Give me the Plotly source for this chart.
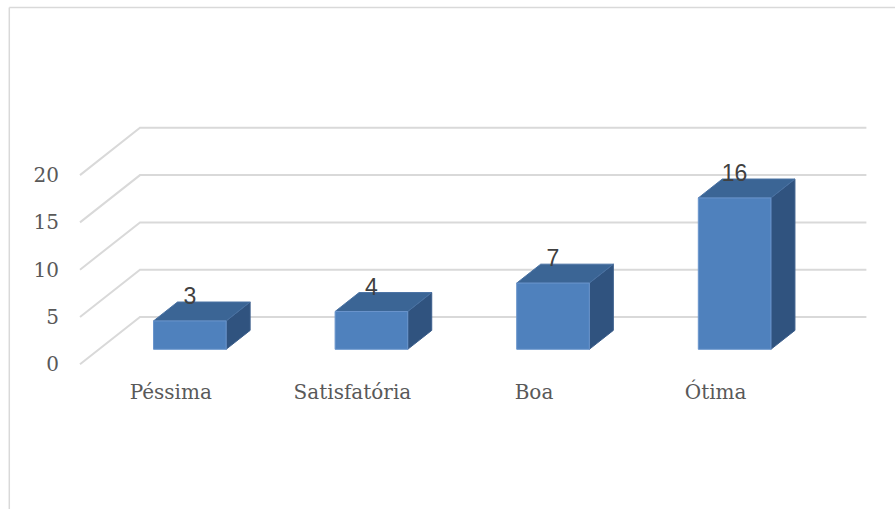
import plotly.graph_objects as go

# ---- data ----
categories = ["Péssima", "Satisfatória", "Boa", "Ótima"]
values = [3, 4, 7, 16]
y_ticks = [0, 5, 10, 15, 20]

# ---- pseudo-3D geometry (in axis units) ----
DX = 0.3304      # horizontal shift for full depth (category units)
DY = 5.0         # vertical shift for full depth (value units)
D0, D1 = 0.317, 0.717   # bar depth span
W = 0.4          # bar width (category units)

FRONT = "#4f81bd"
TOP = "#3b6595"
SIDE = "#30537f"
GRID = "#d9d9d9"

fig = go.Figure()

# gridlines: back wall + diagonal side lines
gx, gy = [], []
n = len(categories)
for v in y_ticks:
    gx += [-0.5, -0.5 + DX, n - 0.5 + DX, None]
    gy += [v, v + DY, v + DY, None]
fig.add_trace(go.Scatter(x=gx, y=gy, mode="lines", line=dict(color=GRID, width=2),
                         hoverinfo="skip", showlegend=False))

for i, v in enumerate(values):
    xl = i - W / 2
    xr = i + W / 2
    # front face
    fx = [xl + D0 * DX, xr + D0 * DX, xr + D0 * DX, xl + D0 * DX, xl + D0 * DX]
    fy = [D0 * DY, D0 * DY, v + D0 * DY, v + D0 * DY, D0 * DY]
    # top face
    tx = [xl + D0 * DX, xr + D0 * DX, xr + D1 * DX, xl + D1 * DX, xl + D0 * DX]
    ty = [v + D0 * DY, v + D0 * DY, v + D1 * DY, v + D1 * DY, v + D0 * DY]
    # side face
    sx = [xr + D0 * DX, xr + D1 * DX, xr + D1 * DX, xr + D0 * DX, xr + D0 * DX]
    sy = [D0 * DY, D1 * DY, v + D1 * DY, v + D0 * DY, D0 * DY]
    for px, py, col, lc in [(sx, sy, SIDE, "#3d5f8c"), (tx, ty, TOP, "#4a72a3"),
                            (fx, fy, FRONT, "#6a95cc")]:
        fig.add_trace(go.Scatter(x=px, y=py, mode="lines", fill="toself", fillcolor=col,
                                 line=dict(color=lc, width=1), hoverinfo="skip",
                                 showlegend=False))

# value labels
fig.add_trace(go.Scatter(
    x=[i + D0 * DX for i in range(n)],
    y=[v + D1 * DY + 0.4 for v in values],
    mode="text", text=[str(v) for v in values], textposition="middle center",
    textfont=dict(family="Liberation Sans", size=23, color="#404040"),
    hoverinfo="skip", showlegend=False, cliponaxis=False))

PXX = 181.6   # px per category
PXY = 9.46    # px per value unit
left, right, top, bottom = 60, 875, 100, 366
x_min = -0.5 - (80 - left) / PXX
x_max = x_min + (right - left) / PXX
y_max = (364.3 - top) / PXY
y_min = -(bottom - 364.3) / PXY

fig.update_layout(
    width=895, height=509,
    margin=dict(l=left, r=895 - right, t=top, b=509 - bottom, pad=0),
    paper_bgcolor="white", plot_bgcolor="white",
    xaxis=dict(range=[x_min, x_max], showgrid=False, zeroline=False, showline=False,
               tickmode="array", tickvals=list(range(n)), ticktext=categories,
               ticks="", ticklabelstandoff=12,
               tickfont=dict(family="DejaVu Serif", size=20, color="#595959"),
               fixedrange=True),
    yaxis=dict(range=[y_min, y_max], showgrid=False, zeroline=False, showline=False,
               tickmode="array", tickvals=y_ticks, ticks="", ticklabelstandoff=0,
               tickfont=dict(family="DejaVu Serif", size=20, color="#595959"),
               fixedrange=True),
    shapes=[
        dict(type="line", xref="paper", yref="paper",
             x0=(9.3 - left) / (right - left), x1=(900 - left) / (right - left),
             y0=(509 - 7.5 - (509 - bottom)) / (bottom - top),
             y1=(509 - 7.5 - (509 - bottom)) / (bottom - top),
             line=dict(color="#d9d9d9", width=1.5)),
        dict(type="line", xref="paper", yref="paper",
             x0=(9.3 - left) / (right - left), x1=(9.3 - left) / (right - left),
             y0=(509 - 7.5 - (509 - bottom)) / (bottom - top),
             y1=-(520 - bottom) / (bottom - top),
             line=dict(color="#d9d9d9", width=1.5)),
    ],
)

fig.write_html("out.html", config={"displayModeBar": False})
